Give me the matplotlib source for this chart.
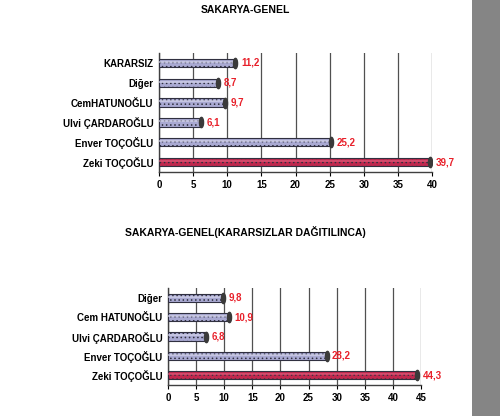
import matplotlib
matplotlib.use("Agg")
import matplotlib.pyplot as plt
from matplotlib.path import Path
import numpy as np

plt.rcParams['font.family'] = ['Liberation Sans', 'DejaVu Sans']
plt.rcParams['hatch.linewidth'] = 0.6

# Top chart data (bottom to top order)
top_title = "SAKARYA-GENEL"
top_cats = ["Zeki TOÇOĞLU", "Enver TOÇOĞLU", "Ulvi ÇARDAROĞLU", "CemHATUNOĞLU", "Diğer", "KARARSIZ"]
top_vals = [39.7, 25.2, 6.1, 9.7, 8.7, 11.2]
top_labels = ["39,7", "25,2", "6,1", "9,7", "8,7", "11,2"]
top_ticks = [0, 5, 10, 15, 20, 25, 30, 35, 40]

# Bottom chart data
bot_title = "SAKARYA-GENEL(KARARSIZLAR DAĞITILINCA)"
bot_cats = ["Zeki TOÇOĞLU", "Enver TOÇOĞLU", "Ulvi ÇARDAROĞLU", "Cem HATUNOĞLU", "Diğer"]
bot_vals = [44.3, 28.2, 6.8, 10.9, 9.8]
bot_labels = ["44,3", "28,2", "6,8", "10,9", "9,8"]
bot_ticks = [0, 5, 10, 15, 20, 25, 30, 35, 40, 45]

LAV = "#a9a9d2"
LAV_HI = "#d8d8ee"
RED = "#c0284e"
RED_HI = "#e0607e"

# elliptical end-cap marker
_t = np.linspace(0, 2 * np.pi, 40)
CAP = Path(np.column_stack([0.4 * np.cos(_t), np.sin(_t)]))

fig = plt.figure(figsize=(5.0, 4.16), dpi=100)
fig.patch.set_facecolor("white")
fig.patches.append(plt.Rectangle((0.944, 0), 0.056, 1, transform=fig.transFigure,
                                 facecolor="#858585", edgecolor="none", zorder=0))


def draw(ax, cats, vals, labels, ticks, xmax, title, title_y):
    n = len(cats)
    y = np.arange(n)
    cols = [RED if i == 0 else LAV for i in range(n)]
    his = [RED_HI if i == 0 else LAV_HI for i in range(n)]
    ax.barh(y, vals, height=0.42, color=cols, edgecolor="#303040", linewidth=0.8,
            hatch="....", zorder=3)
    ax.barh(y + 0.06, vals, height=0.1, color=his, edgecolor="none", alpha=0.6, zorder=4)
    ax.scatter(vals, y, marker=CAP, s=55, color="#3a3a3a", zorder=5)
    for yi, v, lab in zip(y, vals, labels):
        ax.annotate(lab, (v, yi), xytext=(4, 0), textcoords="offset points",
                    color="#e8202a", fontsize=7, fontweight="bold",
                    va="center", ha="left", zorder=6)
    ax.set_xlim(0, xmax)
    ax.set_ylim(-0.5, n - 0.5)
    ax.set_xticks(ticks)
    ax.set_xticklabels([str(t) for t in ticks], fontsize=7, fontweight="bold")
    ax.set_yticks(y)
    ax.set_yticklabels(cats, fontsize=7, fontweight="bold")
    ax.tick_params(axis="y", length=0, pad=4)
    ax.tick_params(axis="x", length=3, width=0.8, pad=3, direction="out")
    ax.grid(axis="x", color="#505050", linewidth=0.9, zorder=0)
    ax.set_axisbelow(True)
    for s in ["top", "right"]:
        ax.spines[s].set_visible(False)
    for s in ["left", "bottom"]:
        ax.spines[s].set_color("#404040")
        ax.spines[s].set_linewidth(1.0)
    fig.text(0.49, title_y, title, ha="center", va="center", fontsize=7.5, fontweight="bold")


ax1 = fig.add_axes([0.318, 0.5865, 0.546, 0.286])
draw(ax1, top_cats, top_vals, top_labels, top_ticks, 40, top_title, 1 - 10 / 416)

ax2 = fig.add_axes([0.336, 0.0745, 0.506, 0.233])
draw(ax2, bot_cats, bot_vals, bot_labels, bot_ticks, 45, bot_title, 1 - 232 / 416)

fig.savefig("out.png", dpi=100)
